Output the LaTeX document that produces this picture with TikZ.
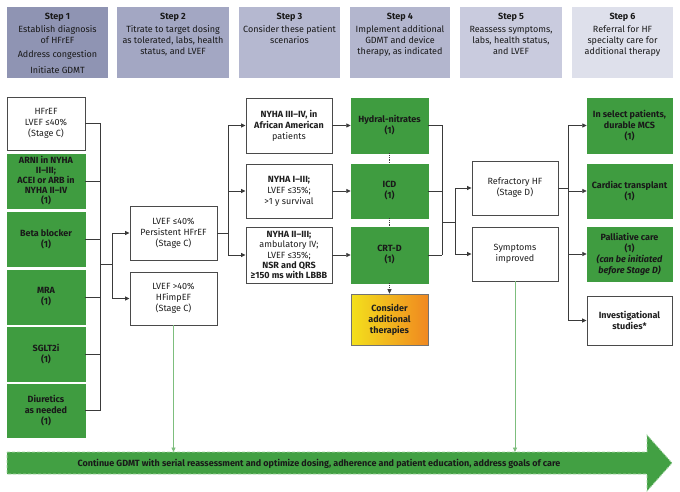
\documentclass[tikz,border=0pt]{standalone}
\usepackage{fontspec}
\setmainfont{Fira Sans}
\usetikzlibrary{arrows.meta}
\definecolor{gr}{HTML}{3F9C40}
\definecolor{bandgr}{HTML}{42A043}
\definecolor{bandedge}{HTML}{A6D6A6}
\definecolor{lgr}{HTML}{7DBE7D}
\definecolor{bord}{HTML}{4A4A4A}
\definecolor{conncol}{HTML}{3A3A3A}
\definecolor{txt}{HTML}{1E1E1E}
\definecolor{hA}{HTML}{8F94B3}
\definecolor{hB}{HTML}{A3A7C3}
\definecolor{hC}{HTML}{B5B8D0}
\definecolor{hD}{HTML}{B3B6CE}
\definecolor{hE}{HTML}{C9CBDE}
\definecolor{hF}{HTML}{DEE0EB}
\definecolor{yel}{HTML}{F3E01C}
\definecolor{org}{HTML}{F08820}
\begin{document}
\begin{tikzpicture}[x=1pt,y=-1pt,
  every node/.style={inner sep=1pt, align=center, text=txt, font=\fontsize{9}{11}\selectfont},
  wbox/.style={draw=bord, line width=0.9pt, fill=white},
  gbox/.style={draw=gr, line width=0.5pt, fill=gr, font=\fontsize{9}{11}\selectfont\bfseries, text=black!90},
  hdr/.style={draw=none, minimum height=71pt},
  htxt/.style={anchor=north, font=\fontsize{9}{11}\selectfont, text=black!90},
  conn/.style={draw=conncol, line width=0.8pt},
  arr/.style={conn, -{Triangle[length=4.5pt,width=4pt]}},
  dots/.style={draw=conncol, line width=0.8pt, densely dotted},
  garr/.style={draw=lgr, line width=0.9pt, -{Triangle[length=4.5pt,width=4pt]}},
]
\useasboundingbox (0,0) rectangle (680,492);
\fill[white] (0,0) rectangle (680,492);

% ---- headers
\node[hdr, fill=hA, minimum width=101pt] (s1) at (57.5,42.5) {};
\node[hdr, fill=hB, minimum width=112pt] (s2) at (173,42.5) {};
\node[hdr, fill=hC, minimum width=101pt] (s3) at (289.5,42.5) {};
\node[hdr, fill=hD, minimum width=100pt] (s4) at (400,42.5) {};
\node[hdr, fill=hE, minimum width=102pt] (s5) at (511,42.5) {};
\node[hdr, fill=hF, minimum width=101pt] (s6) at (622.5,42.5) {};
\node[htxt] (t1) at (57.5,11.5) {\textbf{Step 1}\\[2pt]Establish diagnosis\\of HFrEF\\[3pt]Address congestion\\[5pt]Initiate GDMT};
\node[htxt] (t2) at (173,11.5) {\textbf{Step 2}\\[2pt]Titrate to target dosing\\as tolerated, labs, health\\status, and LVEF};
\node[htxt] (t3) at (289.5,11.5) {\textbf{Step 3}\\[2pt]Consider these patient\\scenarios};
\node[htxt] (t4) at (400,11.5) {\textbf{Step 4}\\[2pt]Implement additional\\GDMT and device\\therapy, as indicated};
\node[htxt] (t5) at (511,11.5) {\textbf{Step 5}\\[2pt]Reassess symptoms,\\labs, health status,\\and LVEF};
\node[htxt] (t6) at (622.5,11.5) {\textbf{Step 6}\\[2pt]Referral for HF\\specialty care for\\additional therapy};

% ---- column 1
\node[wbox, minimum width=78pt, minimum height=53pt] (hfref) at (46,123.5) {HFrEF\\LVEF ≤40\%\\(Stage C)};
\node[gbox, minimum width=78pt, minimum height=54pt, font=\fontsize{9}{10}\selectfont\bfseries] (arni) at (46,181) {ARNI in NYHA\\II–III;\\ACEI or ARB in\\NYHA II–IV\\(1)};
\node[gbox, minimum width=78pt, minimum height=54pt] (beta) at (46,239) {Beta blocker\\(1)};
\node[gbox, minimum width=78pt, minimum height=54pt] (mra) at (46,297) {MRA\\(1)};
\node[gbox, minimum width=78pt, minimum height=54pt] (sglt) at (46,354) {SGLT2i\\(1)};
\node[gbox, minimum width=78pt, minimum height=53pt] (diur) at (46,410.5) {Diuretics\\as needed\\(1)};

% ---- column 2
\node[wbox, minimum width=87pt, minimum height=54pt] (lv40) at (173.5,233) {LVEF ≤40\%\\Persistent HFrEF\\(Stage C)};
\node[wbox, minimum width=87pt, minimum height=53pt] (lv41) at (173.5,298.5) {LVEF >40\%\\HFimpEF\\(Stage C)};

% ---- column 3
\node[wbox, minimum width=86pt, minimum height=55pt] (n1) at (289,125.5) {\textbf{NYHA III–IV, in}\\\textbf{African American}\\patients};
\node[wbox, minimum width=86pt, minimum height=54pt] (n2) at (289,191) {\textbf{NYHA I–III;}\\LVEF ≤35\%;\\>1 y survival};
\node[wbox, minimum width=86pt, minimum height=56pt, font=\fontsize{9}{10.4}\selectfont] (n3) at (289,255) {\textbf{NYHA II–III;}\\ambulatory IV;\\LVEF ≤35\%;\\\textbf{NSR and QRS}\\\textbf{≥150 ms with LBBB}};

% ---- column 4
\node[gbox, minimum width=77pt, minimum height=55pt] (hy) at (389.5,125.5) {Hydral-nitrates\\(1)};
\node[gbox, minimum width=77pt, minimum height=54pt] (icd) at (389.5,191) {ICD\\(1)};
\node[gbox, minimum width=77pt, minimum height=56pt] (crt) at (389.5,255) {CRT-D\\(1)};
\node[draw=black!55, line width=0.6pt, left color=yel, right color=org, minimum width=77pt, minimum height=51pt, font=\fontsize{9}{11}\selectfont\bfseries] (cons) at (389.5,319.5) {Consider\\additional\\therapies};

% ---- column 5
\node[wbox, minimum width=86pt, minimum height=54pt] (refr) at (515,188) {Refractory HF\\(Stage D)};
\node[wbox, minimum width=86pt, minimum height=54pt] (symp) at (515,254) {Symptoms\\improved};

% ---- column 6
\node[gbox, minimum width=85pt, minimum height=55pt] (sel) at (629.5,125.5) {In select patients,\\durable MCS\\(1)};
\node[gbox, minimum width=85pt, minimum height=54pt] (tra) at (629.5,191) {Cardiac transplant\\(1)};
\node[gbox, minimum width=85pt, minimum height=54pt] (pal) at (629.5,254) {Palliative care\\(1)\\\textit{(can be initiated}\\\textit{before Stage D)}};
\node[wbox, minimum width=85pt, minimum height=49pt, font=\fontsize{9}{11}\selectfont\bfseries] (inv) at (629.5,320.5) {Investigational\\studies*};

% ---- connectors
\coordinate (b1) at (100,264);
\coordinate (b2) at (112,264);
\foreach \n in {hfref,arni,beta,mra,sglt,diur} \draw[conn] (\n.east) -- (\n.east -| b1);
\draw[conn] (hfref.east -| b1) -- (diur.east -| b1);
\draw[conn] (b1) -- (b2);
\draw[arr] (b2) |- (lv40.west);
\draw[arr] (b2) |- (lv41.west);

\coordinate (b3) at (228,233);
\draw[conn] (lv40.east) -- (b3);
\draw[arr] (b3) |- (n1.west);
\draw[arr] (b3) |- (n2.west);
\draw[arr] (b3) |- (n3.west);

\draw[arr] (n1.east) -- (hy.west);
\draw[arr] (n2.east) -- (icd.west);
\draw[arr] (n3.east) -- (crt.west);

\draw[dots] (hy.south) -- (icd.north);
\draw[dots] (icd.south) -- (crt.north);
\draw[dots, -{Triangle[length=4.5pt,width=4pt]}] (crt.south) -- (cons.north);

\coordinate (b4) at (442,222);
\coordinate (b5) at (455,222);
\foreach \n in {hy,icd,crt} \draw[conn] (\n.east) -- (\n.east -| b4);
\draw[conn] (hy.east -| b4) -- (crt.east -| b4);
\draw[conn] (b4) -- (b5);
\draw[arr] (b5) |- (refr.west);
\draw[arr] (b5) |- (symp.west);

\coordinate (b6) at (568,188);
\draw[conn] (refr.east) -- (b6);
\foreach \n in {sel,tra,pal,inv} \draw[arr] (b6) |- (\n.west);

% ---- band arrow
\coordinate (bt) at (0,452);
\draw[draw=bandedge, densely dashed, line width=0.8pt, fill=bandgr]
  (7,452) -- (647,452) -- (647,435) -- (672,463) -- (647,491) -- (647,474) -- (7,474) -- cycle;
\node[font=\fontsize{9}{10}\selectfont\bfseries, text=black!90] (band) at (319,463.5)
  {Continue GDMT with serial reassessment and optimize dosing, adherence and patient education, address goals of care};
\draw[garr] (lv41.south) -- (lv41.south |- bt);
\draw[garr] (symp.south) -- (symp.south |- bt);
\end{tikzpicture}
\end{document}
